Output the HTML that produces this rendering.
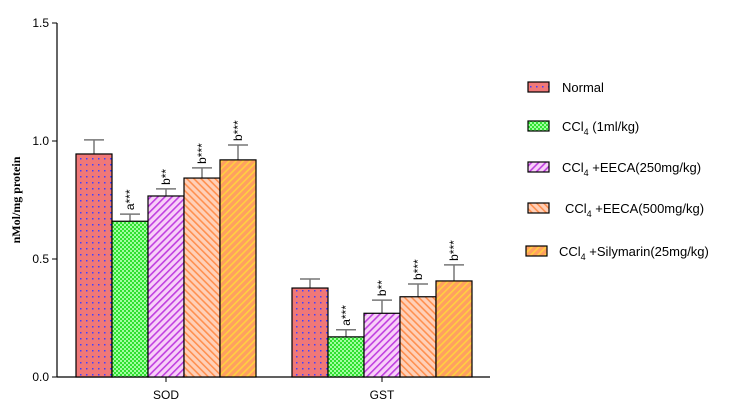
<!DOCTYPE html>
<html><head><meta charset="utf-8"><style>
body{margin:0;background:#fff;width:731px;height:409px;overflow:hidden}
text{font-family:"Liberation Sans",Arial,sans-serif}
</style></head><body>
<svg width="731" height="409" xmlns="http://www.w3.org/2000/svg">
<defs>
<pattern id="p0" width="6" height="6" patternUnits="userSpaceOnUse"><rect width="6" height="6" fill="#f07878"/><rect x="2" y="2" width="1.5" height="1.5" fill="#4040ff"/></pattern>
<pattern id="p1" width="4" height="4" patternUnits="userSpaceOnUse"><rect width="4" height="4" fill="#30e030"/><rect width="2" height="2" fill="#a0ffa0"/><rect x="2" y="2" width="2" height="2" fill="#a0ffa0"/></pattern>
<pattern id="p2" width="5" height="5" patternUnits="userSpaceOnUse" patternTransform="rotate(45)"><rect width="5" height="5" fill="#f8d0f8"/><rect width="1.6" height="5" fill="#c040e0"/></pattern>
<pattern id="p3" width="5" height="5" patternUnits="userSpaceOnUse" patternTransform="rotate(-45)"><rect width="5" height="5" fill="#ffd0b8"/><rect width="1.6" height="5" fill="#ff9050"/></pattern>
<pattern id="p4" width="5" height="5" patternUnits="userSpaceOnUse" patternTransform="rotate(45)"><rect width="5" height="5" fill="#ffa060"/><rect width="1.6" height="5" fill="#ffd040"/></pattern>
</defs>
<g id="plot"></g>
<g id="legend"></g>
</svg>
<script>
const categories=["SOD","GST"];
const groups=["Normal","CCl4 (1ml/kg)","CCl4 +EECA(250mg/kg)","CCl4 +EECA(500mg/kg)","CCl4 +Silymarin(25mg/kg)"];
const sodValues=[0.945,0.66,0.767,0.843,0.92];
const sodErrors=[0.06,0.03,0.03,0.043,0.063];
const gstValues=[0.377,0.17,0.27,0.34,0.407];
const gstErrors=[0.038,0.03,0.056,0.054,0.068];
const sodSig=["","a***","b**","b***","b***"];
const gstSig=["","a***","b**","b***","b***"];
const yTicks=[0,0.5,1.0,1.5];
const values=[sodValues,gstValues],errors=[sodErrors,gstErrors],sigs=[sodSig,gstSig];
const NS="http://www.w3.org/2000/svg";
const y0=377,ppu=236,x0=57;
const y=v=>y0-v*ppu;
const groupStart=[76,292],bw=36;
const plot=document.getElementById('plot');
function mk(tag,attrs,parent){const e=document.createElementNS(NS,tag);for(const k in attrs)e.setAttribute(k,attrs[k]);(parent||plot).appendChild(e);return e;}
const ax=mk('line',{x1:x0,y1:y(1.5),x2:x0,y2:y0,stroke:'#000','stroke-width':1.2});


const xa=mk('line',{x1:x0,y1:y0,x2:490,y2:y0,stroke:'#000','stroke-width':1.2});


yTicks.forEach(t=>{
 mk('line',{x1:x0-5,y1:y(t),x2:x0,y2:y(t),stroke:'#000'});
 const tx=mk('text',{x:x0-8,y:y(t)+4,'text-anchor':'end','font-size':12,fill:'#000'});
 tx.textContent=t.toFixed(1);
 
 
});
const yt=mk('text',{transform:'translate(20,200) rotate(-90)','text-anchor':'middle','font-size':12,'font-weight':'bold',style:'font-family:"Liberation Serif",serif'});
yt.textContent='nMol/mg protein';


categories.forEach((c,ci)=>{
 const cx=groupStart[ci]+bw*2.5;
 mk('line',{x1:cx,y1:y0,x2:cx,y2:y0+5,stroke:'#000'});
 const t=mk('text',{x:cx,y:y0+22,'text-anchor':'middle','font-size':12});
 t.textContent=c;
 
 
 values[ci].forEach((v,i)=>{
  const bx=groupStart[ci]+i*bw;
  const e=y(v+errors[ci][i]);
  mk('line',{x1:bx+bw/2,y1:y(v),x2:bx+bw/2,y2:e,stroke:'#777','stroke-width':1.5});
  mk('line',{x1:bx+bw/2-10,y1:e,x2:bx+bw/2+10,y2:e,stroke:'#777','stroke-width':1.5});
  const r=mk('rect',{x:bx,y:y(v),width:bw,height:y0-y(v),fill:'url(#p'+i+')',stroke:'#000','stroke-width':1.2});
  
  
  if(sigs[ci][i]){
   const s=mk('text',{transform:`translate(${bx+bw/2+4},${e-4}) rotate(-90)`,'font-size':12});
   s.textContent=sigs[ci][i];
   
   
  }
 });
});
const lg=document.getElementById('legend');
const ly=[87,126,167,208,251],lx=[528,528,528,528,526],tx=[562,562,562,565,559];
groups.forEach((g,i)=>{
 const r=mk('rect',{x:lx[i],y:ly[i]-5,width:21,height:10,fill:'url(#p'+i+')',stroke:'#000','stroke-width':1.2},lg);
 
 
 const t=mk('text',{x:tx[i],y:ly[i]+5,'font-size':13},lg);
 if(i===0){t.textContent=g;}else{
  t.appendChild(document.createTextNode('CCl'));
  const sub=mk('tspan',{dy:4,'font-size':9},t);sub.textContent='4';
  const rest=mk('tspan',{dy:-4},t);rest.textContent=g.slice(4);
 }
 
 
});
</script>
</body></html>
